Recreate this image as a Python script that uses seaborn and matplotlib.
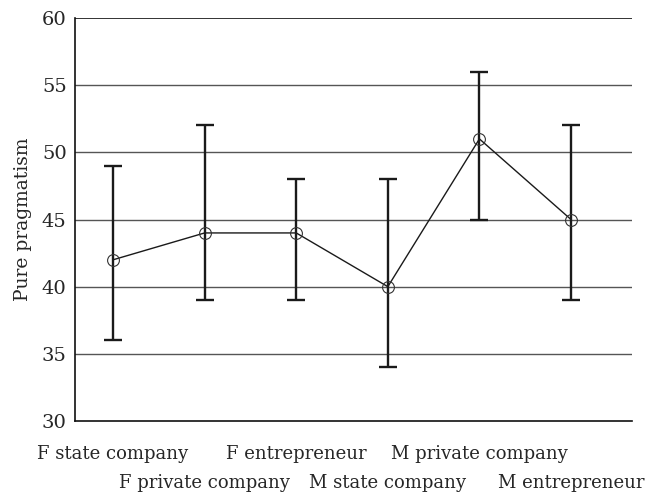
import numpy as np
import pandas as pd
import matplotlib
matplotlib.use("Agg")
import matplotlib.pyplot as plt
import seaborn as sns

# groups (gender x occupation) and their pure pragmatism scores
groups = ["F state company", "F private company", "F entrepreneur",
          "M state company", "M private company", "M entrepreneur"]
means = [42, 44, 44, 40, 51, 45]
lower = [36, 39, 39, 34, 45, 39]
upper = [49, 52, 48, 48, 56, 52]

sns.set_theme(style="white")
plt.rcParams["font.family"] = ["DejaVu Serif"]

df = pd.DataFrame({"pos": np.arange(len(groups)), "group": groups,
                   "mean": means, "lo": lower, "hi": upper})

fig = plt.figure(figsize=(6.54, 4.96), dpi=100)
ax = fig.add_axes([0.1147, 0.1512, 0.8517, 0.8125])

# error bars first so markers sit on top
ax.errorbar(df["pos"], df["mean"],
            yerr=[df["mean"] - df["lo"], df["hi"] - df["mean"]],
            fmt="none", ecolor="#1a1a1a", elinewidth=1.7, capsize=6.5, capthick=1.7,
            zorder=3)
sns.lineplot(data=df, x="pos", y="mean", ax=ax, color="#1a1a1a", linewidth=1.0,
             marker="o", markersize=8.5, markerfacecolor="none",
             markeredgecolor="#333333", markeredgewidth=0.8, zorder=4)

ax.set_ylim(30, 60)
ax.set_xlim(-0.415, 5.666)
ax.set_yticks([30, 35, 40, 45, 50, 55, 60])
for y in [35, 40, 45, 50, 55]:
    ax.axhline(y, color="#555555", linewidth=1.0, zorder=1)
ax.axhline(60, color="#111111", linewidth=1.2, zorder=1)

ax.set_xticks(df["pos"])
ax.set_xticklabels(groups, fontsize=13)
ax.tick_params(axis="y", length=0, pad=6, labelsize=14)
ax.tick_params(axis="x", length=0)
for i, t in enumerate(ax.xaxis.get_major_ticks()):
    t.set_pad(17 if i % 2 == 0 else 38)

ax.set_xlabel("")
ax.set_ylabel("Pure pragmatism", fontsize=13.5, labelpad=7)

for s in ["top", "right"]:
    ax.spines[s].set_visible(False)
for s in ["left", "bottom"]:
    ax.spines[s].set_color("#111111")
    ax.spines[s].set_linewidth(1.2)

fig.savefig("out.png", dpi=100)
